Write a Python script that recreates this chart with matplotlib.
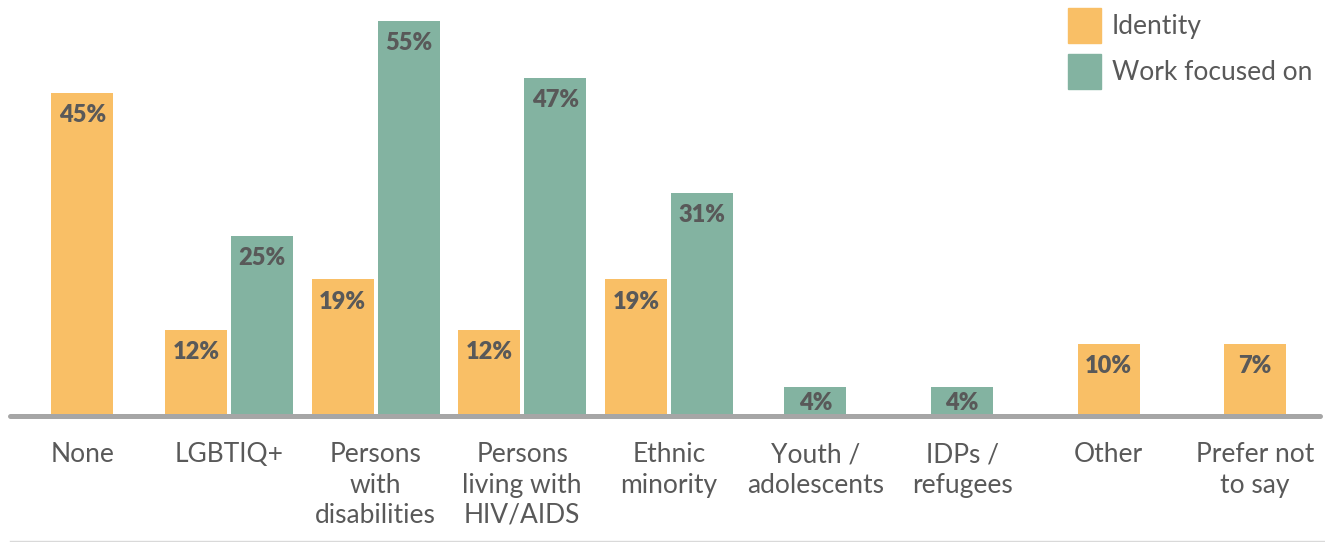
import numpy as np
import matplotlib.pyplot as plt
from matplotlib.patches import Patch
from matplotlib.lines import Line2D

categories = ["None", "LGBTIQ+", "Persons\nwith\ndisabilities", "Persons\nliving with\nHIV/AIDS",
              "Ethnic\nminority", "Youth /\nadolescents", "IDPs /\nrefugees", "Other", "Prefer not\nto say"]
# bar heights as drawn in the source (the "Prefer not to say" bar is drawn as tall as "Other")
identity = [45, 12, 19, 12, 19, np.nan, np.nan, 10, 10]
identity_labels = ["45%", "12%", "19%", "12%", "19%", "", "", "10%", "7%"]
work = [np.nan, 25, 55, 47, 31, 4, 4, np.nan, np.nan]
work_labels = ["", "25%", "55%", "47%", "31%", "4%", "4%", "", ""]

orange = "#F9BF66"
green = "#83B3A1"
text_col = "#595959"

plt.rcParams['font.family'] = ['Lato', 'DejaVu Sans']

fig = plt.figure(figsize=(13.25, 5.42), dpi=100)
ax = fig.add_axes([10 / 1325, 126 / 542, 1310 / 1325, 416 / 542])

width = 0.423
gap = 0.027
x = np.arange(len(categories))

for i in range(len(categories)):
    vals = [(identity[i], identity_labels[i], orange), (work[i], work_labels[i], green)]
    present = [t for t in vals if not np.isnan(t[0])]
    if len(present) == 1:
        offsets = [0]
    else:
        offsets = [-(width + gap) / 2, (width + gap) / 2]
    for (v, lab, c), off in zip(present, offsets):
        ax.bar(x[i] + off, v, width=width, color=c, zorder=2)
        pad = -8 if v > 6 else -3.5
        ax.annotate(lab, (x[i] + off, v), xytext=(0, pad), textcoords="offset points",
                    ha="center", va="top", fontsize=17, fontweight="heavy", color=text_col)

ax.axhline(0, color="#A6A6A6", lw=3.6, solid_capstyle="round", clip_on=False, zorder=3)

ax.set_xlim(-0.494, 8.442)
ax.set_ylim(0, 57.9)
ax.set_xticks(x)
ax.set_xticklabels(categories, fontsize=19, color=text_col, linespacing=1.26)
ax.tick_params(axis="x", length=0, pad=19)
ax.set_yticks([])
for s in ax.spines.values():
    s.set_visible(False)

handles = [Patch(color=orange, label="Identity"), Patch(color=green, label="Work focused on")]
fig.legend(handles=handles, loc="upper left", bbox_to_anchor=(1068 / 1325, 1 - 8 / 542),
           frameon=False, fontsize=19, borderpad=0, borderaxespad=0,
           handlelength=1.25, handleheight=1.65, handletextpad=0.42, labelspacing=0.42,
           labelcolor=text_col)

fig.add_artist(Line2D([10 / 1325, 1], [1 / 542, 1 / 542], color="#D9D9D9", lw=1))

fig.savefig("out.png", dpi=100)
